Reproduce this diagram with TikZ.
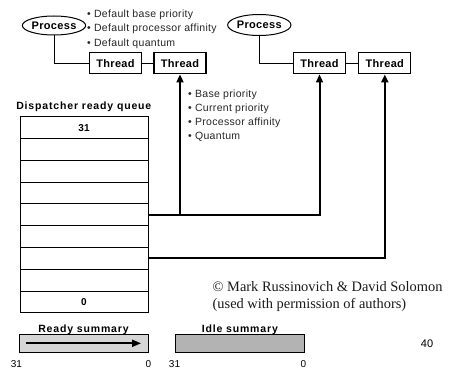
\documentclass[tikz,border=0pt]{standalone}
\usepackage{fontspec}
\setmainfont{Liberation Sans}
\newfontfamily\tsans[LetterSpace=3]{Liberation Sans}
\newfontfamily\wsans[LetterSpace=8]{Liberation Sans}
\newfontfamily\tserif{Liberation Serif}
\usetikzlibrary{shapes.geometric,arrows.meta}
\definecolor{readygray}{HTML}{D6D6D6}
\definecolor{idlegray}{HTML}{B3B3B3}
\begin{document}
\begin{tikzpicture}[x=1pt,y=-1pt,
  proc/.style={ellipse,draw,line width=1pt,inner sep=0pt,minimum width=57pt,minimum height=19pt,font=\tsans\bfseries\fontsize{11}{12}\selectfont},
  thr/.style={rectangle,draw,line width=1.3pt,inner sep=0pt,minimum width=52pt,minimum height=21pt,font=\tsans\bfseries\fontsize{11}{12}\selectfont},
  link/.style={line width=1pt},
  slot/.style={rectangle,draw,line width=0.9pt,inner sep=0pt,minimum width=128pt,minimum height=21.8pt},
  conn/.style={line width=2pt,-{Triangle[length=8pt,width=7pt]}},
  bul/.style={anchor=base west,inner sep=0pt,font=\tsans\fontsize{10.5}{12}\selectfont,text=black!85},
  lab/.style={anchor=base,inner sep=0pt,font=\wsans\bfseries\fontsize{10.5}{12}\selectfont},
  sumbox/.style={rectangle,draw,line width=1.3pt,inner sep=0pt,minimum width=129pt,minimum height=18pt},
  num/.style={anchor=base,inner sep=0pt,font=\fontsize{10}{12}\selectfont},
  copy/.style={anchor=base west,inner sep=0pt,font=\tserif\fontsize{14.4}{16}\selectfont,text=black!90}
]
\useasboundingbox (0,0) rectangle (449,369);

% processes and threads
\node[proc] (p1) at (54,25.5) {Process};
\node[proc,minimum width=59pt,minimum height=21pt] (p2) at (259.3,25) {Process};
\node[thr] (t1) at (115.5,63.3) {Thread};
\node[thr] (t2) at (180,63.3) {Thread};
\node[thr] (t3) at (319.5,63.3) {Thread};
\node[thr] (t4) at (384.8,63.3) {Thread};
\draw[link] (p1.south) |- (t1.west);
\draw[link] (t1.east) -- (t2.west);
\draw[link] (p2.south) |- (t3.west);
\draw[link] (t3.east) -- (t4.west);

% bullet lists
\node[bul] (b1) at (87,17.8) {• Default base priority};
\node[bul] (b2) at (87,31.8) {• Default processor affinity};
\node[bul] (b3) at (87,46) {• Default quantum};
\node[bul] (c1) at (188,97.8) {• Base priority};
\node[bul] (c2) at (188,111.8) {• Current priority};
\node[bul] (c3) at (188,125.8) {• Processor affinity};
\node[bul] (c4) at (188,139.3) {• Quantum};

% dispatcher ready queue
\node[lab] (dq) at (83.8,109.6) {Dispatcher ready queue};
\foreach \i in {1,...,9} {
  \node[slot] (q\i) at (84,{116.7+21.8*(\i-0.5)}) {};
}
\node[font=\tsans\bfseries\fontsize{10}{12}\selectfont] (n31) at (q1) {31};
\node[font=\tsans\bfseries\fontsize{10}{12}\selectfont] (n0) at (q9) {0};

% connectors
\draw[conn] (q5.east) -| (t3.south);
\draw[conn] (q5.east -| t2.south) -- (t2.south);
\draw[conn] (q7.east) -| (t4.south);

% copyright
\node[copy] (cp1) at (212.5,291) {© Mark Russinovich \& David Solomon};
\node[copy] (cp2) at (212.5,308) {(used with permission of authors)};

% summaries
\node[lab] (rl) at (83.5,332.5) {Ready summary};
\node[sumbox,fill=readygray] (rs) at (83.7,343.3) {};
\coordinate (ra) at (26,343.3);
\coordinate (rb) at (141,343.3);
\draw[line width=1.8pt,-{Triangle[length=9pt,width=7pt]}] (ra) -- (rb);
\node[lab] (il) at (239.8,332.5) {Idle summary};
\node[sumbox,fill=idlegray] (is) at (240,343.3) {};

\node[num] (r31) at (16.5,367) {31};
\node[num] (r0) at (148.3,367) {0};
\node[num] (i31) at (174.5,367) {31};
\node[num] (i0) at (303.3,367) {0};

\node[anchor=center,inner sep=0pt,font=\fontsize{11}{12}\selectfont] (pg) at (427,344) {40};
\end{tikzpicture}
\end{document}
